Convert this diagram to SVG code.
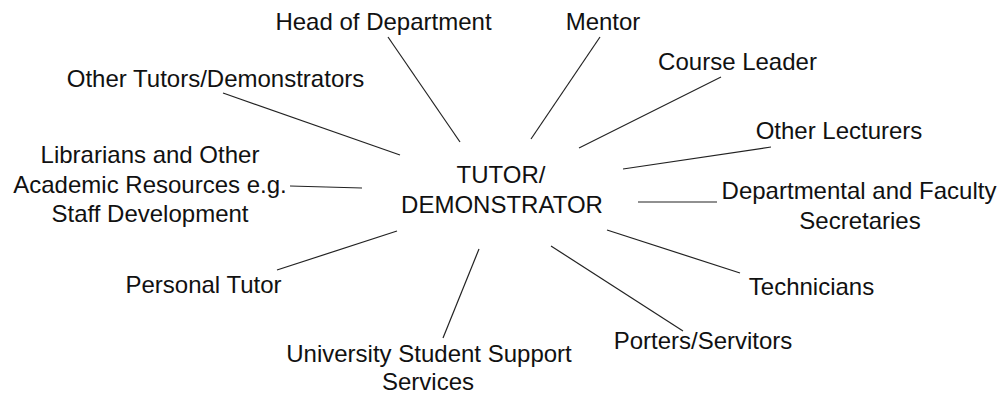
<svg xmlns="http://www.w3.org/2000/svg" width="1003" height="396" viewBox="0 0 1003 396">
  <style>
    text { font-family: "Liberation Sans", Arial, sans-serif; font-size: 24px; fill: #111; text-anchor: middle; }
    .link { stroke: #222; stroke-width: 1.2; fill: none; }
  </style>
  <rect width="1003" height="396" fill="#fff"/>

  <!-- spokes from the central role to each contact -->
  <g id="connectors">
    <line class="link" x1="388" y1="37" x2="460" y2="142"/>
    <line class="link" x1="600" y1="37" x2="531" y2="139"/>
    <line class="link" x1="721" y1="77" x2="579" y2="148"/>
    <line class="link" x1="223" y1="93" x2="400" y2="155"/>
    <line class="link" x1="771" y1="147" x2="623" y2="169"/>
    <line class="link" x1="290" y1="186" x2="362" y2="188"/>
    <line class="link" x1="638" y1="202" x2="717" y2="202"/>
    <line class="link" x1="607" y1="230" x2="740" y2="273"/>
    <line class="link" x1="551" y1="246" x2="683" y2="331"/>
    <line class="link" x1="397" y1="231" x2="277" y2="270"/>
    <line class="link" x1="479" y1="249" x2="443" y2="338"/>
  </g>

  <g id="centre">
    <text x="501" y="183">TUTOR/</text>
    <text x="502" y="213">DEMONSTRATOR</text>
  </g>
  <g id="head-of-department"><text x="383.5" y="30">Head of Department</text></g>
  <g id="mentor"><text x="603" y="30">Mentor</text></g>
  <g id="course-leader"><text x="737.5" y="70">Course Leader</text></g>
  <g id="other-tutors"><text x="215.5" y="87">Other Tutors/Demonstrators</text></g>
  <g id="other-lecturers"><text x="839" y="139">Other Lecturers</text></g>
  <g id="librarians">
    <text x="150" y="163">Librarians and Other</text>
    <text x="150" y="193">Academic Resources e.g.</text>
    <text x="150" y="222">Staff Development</text>
  </g>
  <g id="secretaries">
    <text x="859" y="199">Departmental and Faculty</text>
    <text x="860" y="229">Secretaries</text>
  </g>
  <g id="technicians"><text x="811.5" y="295">Technicians</text></g>
  <g id="porters"><text x="703" y="349">Porters/Servitors</text></g>
  <g id="personal-tutor"><text x="203.5" y="293">Personal Tutor</text></g>
  <g id="student-support">
    <text x="429" y="362">University Student Support</text>
    <text x="428" y="390">Services</text>
  </g>
</svg>
